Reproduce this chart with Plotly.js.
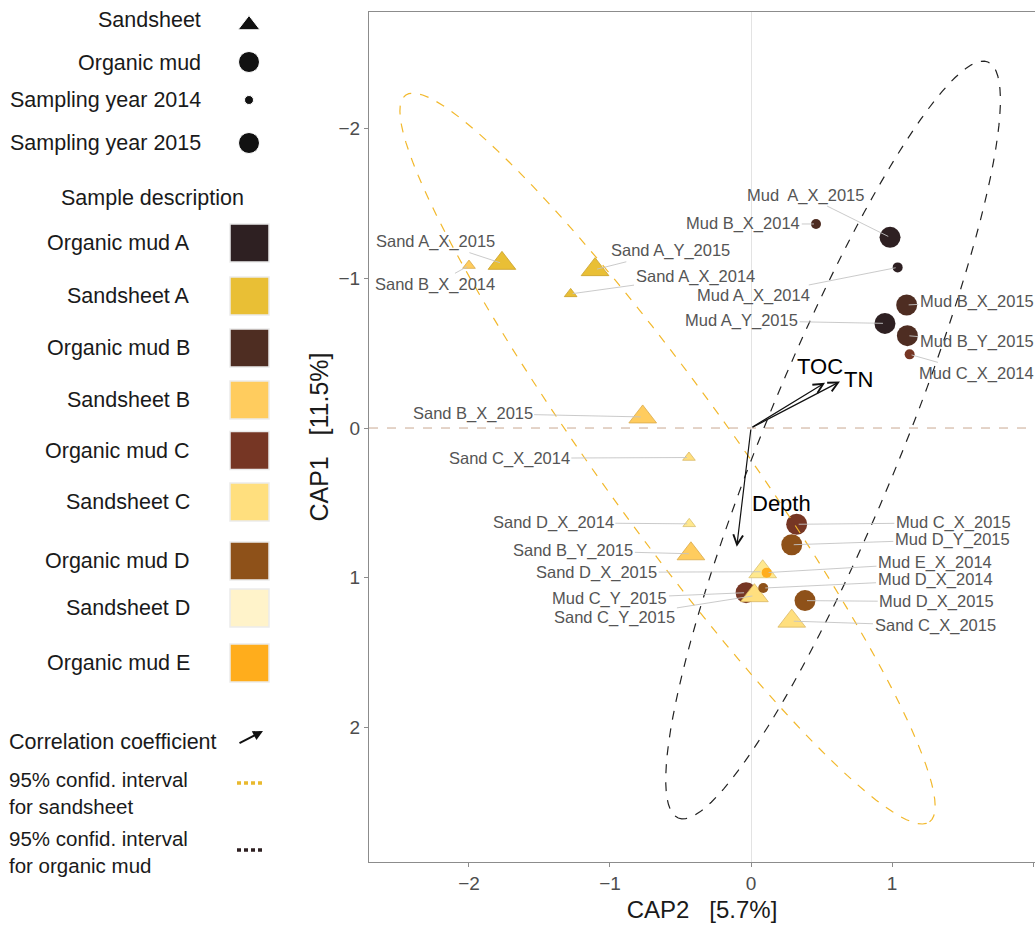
<!DOCTYPE html>
<html><head><meta charset="utf-8">
<script src="https://cdn.plot.ly/plotly-3.0.1.min.js"></script>
<style>html,body{margin:0;padding:0;background:#fff}#chart{width:1035px;height:926px}</style>
</head><body><div id="chart"></div>
<script>
// ---------------- data ----------------
const sandNames = ['Sand A_X_2015','Sand B_X_2014','Sand A_Y_2015','Sand A_X_2014','Sand B_X_2015',
  'Sand C_X_2014','Sand D_X_2014','Sand B_Y_2015','Sand D_X_2015','Sand C_Y_2015','Sand C_X_2015'];
const sandX = [-1.766,-2.0,-1.106,-1.279,-0.768,-0.44,-0.438,-0.426,0.083,0.024,0.289];
const sandY = [-1.10,-1.085,-1.058,-0.896,-0.074,0.197,0.64,0.84,0.96,1.12,1.29];
const sandGroup = ['A','B','A','A','B','C','D','B','D','C','C'];
const sandYear = [2015,2014,2015,2014,2015,2014,2014,2015,2015,2015,2015];
const sandLabelX = [-2.234,-2.241,-0.574,-0.397,-1.974,-1.714,-1.402,-1.260,-1.094,-0.965,1.305];
const sandLabelY = [-1.245,-0.960,-1.184,-1.011,-0.098,0.202,0.633,0.820,0.964,1.267,1.321];

const mudNames = ['Mud  A_X_2015','Mud B_X_2014','Mud A_X_2014','Mud B_X_2015','Mud A_Y_2015','Mud B_Y_2015',
  'Mud C_X_2014','Mud C_X_2015','Mud D_Y_2015','Mud E_X_2014','Mud C_Y_2015','Mud D_X_2014','Mud D_X_2015'];
const mudX = [0.986,0.461,1.04,1.104,0.95,1.109,1.125,0.324,0.289,0.111,-0.035,0.087,0.383];
const mudY = [-1.274,-1.363,-1.073,-0.822,-0.699,-0.617,-0.492,0.643,0.78,0.966,1.10,1.069,1.153];
const mudGroup = ['A','B','A','B','A','B','C','C','D','E','C','D','D'];
const mudYear = [2015,2014,2014,2015,2015,2015,2014,2015,2015,2014,2015,2014,2015];
const mudLabelX = [0.383,-0.055,0.016,1.601,-0.066,1.601,1.601,1.435,1.428,1.305,-1.0,1.305,1.317];
const mudLabelY = [-1.556,-1.363,-0.882,-0.844,-0.717,-0.576,-0.365,0.633,0.744,0.900,1.138,1.015,1.160];

const vectorNames = ['TOC','TN','Depth'];
const vectorX = [0.525,0.631,-0.101];
const vectorY = [-0.303,-0.310,0.793];
const vectorLabelX = [0.489,0.759,0.218];
const vectorLabelY = [-0.410,-0.327,0.503];

// confidence ellipses: centre and conjugate half-axes
const sandEllipse = {cx:-0.592, cy:0.204, ux:1.858, uy:2.427, vx:0.387, vy:-0.263};
const mudEllipse  = {cx:0.582,  cy:0.080, ux:-1.098, uy:2.525, vx:0.450, vy:0.174};

const categories = ['Organic mud A','Sandsheet A','Organic mud B','Sandsheet B','Organic mud C',
  'Sandsheet C','Organic mud D','Sandsheet D','Organic mud E'];
const categoryColors = ['#2E2022','#E9BF35','#4E2D22','#FFCC5E','#763624','#FFDF7E','#8E5119','#FFF3CA','#FFAD1C'];

const xTickVals = [-2,-1,0,1,2];
const yTickVals = [-2,-1,0,1,2];

// ---------------- styling / layout ----------------
const W = 1035, H = 926;
const FONT = '"Liberation Sans", Arial, sans-serif';
const LEGFONT = 21.5;
const sandFill = {A:'#E9BF35', B:'#FFCC5E', C:'#FFDF7E', D:'#FFE88E'};
const sandEdge = {A:'#C9A02A', B:'#D9A94A', C:'#D9B864', D:'#D9C070'};
const mudFill = {A:'#2E2022', B:'#4E2D22', C:'#763624', D:'#8E5119', E:'#FFAD1C'};

const plotL = 369, plotR = 1035, plotT = 12, plotB = 862;
const xRange = [-2.709, 2.014];
const yRange = [2.899, -2.779];

function ellipsePath(e){
  let p = '';
  const n = 120;
  for (let i = 0; i <= n; i++){
    const t = 2*Math.PI*i/n;
    const x = e.cx + Math.cos(t)*e.ux + Math.sin(t)*e.vx;
    const y = e.cy + Math.cos(t)*e.uy + Math.sin(t)*e.vy;
    p += (i===0?'M':'L') + x.toFixed(4) + ',' + y.toFixed(4);
  }
  return p + 'Z';
}

const traces = [];
// mud 2015 (big circles) under triangles
const m15 = mudNames.map((n,i)=>i).filter(i=>mudYear[i]===2015);
traces.push({type:'scatter', mode:'markers', xaxis:'x', yaxis:'y', hoverinfo:'skip',
  x:m15.map(i=>mudX[i]), y:m15.map(i=>mudY[i]),
  marker:{symbol:'circle', size:21, opacity:1, color:m15.map(i=>mudFill[mudGroup[i]]), line:{width:0}}});
// sand triangles
traces.push({type:'scatter', mode:'markers', xaxis:'x', yaxis:'y', hoverinfo:'skip',
  x:sandX, y:sandY,
  marker:{symbol:'triangle-up', size:sandYear.map(y=>y===2015?24:11), opacity:1,
    color:sandGroup.map(g=>sandFill[g]), line:{width:0.8, color:sandGroup.map(g=>sandEdge[g])}}});
// mud 2014 small circles
const m14 = mudNames.map((n,i)=>i).filter(i=>mudYear[i]===2014);
traces.push({type:'scatter', mode:'markers', xaxis:'x', yaxis:'y', hoverinfo:'skip',
  x:m14.map(i=>mudX[i]), y:m14.map(i=>mudY[i]),
  marker:{symbol:'circle', size:10, opacity:1, color:m14.map(i=>mudFill[mudGroup[i]]), line:{width:0}}});

// ---------------- legend (pixel coordinates on hidden axes) ----------------
const legX = 341.55;
const legTopMarkersY = [25, 62, 100, 143];
traces.push({type:'scatter', mode:'markers', xaxis:'x2', yaxis:'y2', hoverinfo:'skip',
  x:[249,249,249,249], y:legTopMarkersY,
  marker:{symbol:['triangle-up','circle','circle','circle'], size:[19,21,9,21], opacity:1, color:'#111'}});

const annotations = [];
const shapes = [];
const legTop = ['Sandsheet','Organic mud','Sampling year 2014','Sampling year 2015'];
const legTopTextY = [20, 63, 100, 143];
legTop.forEach((t,i)=>annotations.push({xref:'x2', yref:'y2', x:203, y:legTopTextY[i], text:t,
  showarrow:false, xanchor:'right', yanchor:'middle', font:{family:FONT, size:LEGFONT, color:'#1a1a1a'}}));
annotations.push({xref:'x2', yref:'y2', x:152, y:198, text:'Sample description', showarrow:false,
  xanchor:'center', yanchor:'middle', font:{family:FONT, size:LEGFONT, color:'#1a1a1a'}});
const rowY = [243, 296, 348, 400, 450.5, 502, 561, 608, 663];
categories.forEach((c,i)=>{
  annotations.push({xref:'x2', yref:'y2', x:192, y:rowY[i], text:c, showarrow:false,
    xanchor:'right', yanchor:'middle', font:{family:FONT, size:LEGFONT, color:'#1a1a1a'}});
  shapes.push({type:'rect', xref:'x2', yref:'y2', x0:230, x1:269, y0:rowY[i]-19, y1:rowY[i]+19,
    fillcolor:categoryColors[i], line:{color:'#ebebeb', width:1.5}});
});
annotations.push({xref:'x2', yref:'y2', x:7, y:742, text:'Correlation coefficient', showarrow:false,
  xanchor:'left', yanchor:'middle', font:{family:FONT, size:LEGFONT, color:'#1a1a1a'}});
annotations.push({xref:'x2', yref:'y2', axref:'x2', ayref:'y2', x:263, y:731, ax:238, ay:744, text:'',
  showarrow:true, arrowhead:2, arrowsize:1, arrowwidth:2, arrowcolor:'#111'});
[['95% confid. interval<br>for sandsheet',793],['95% confid. interval<br>for organic mud',852]]
  .forEach(([t,y])=>annotations.push({xref:'x2', yref:'y2', x:7, y:y, text:t, showarrow:false,
    xanchor:'left', yanchor:'middle', align:'left', font:{family:FONT, size:20.5, color:'#1a1a1a'}}));
shapes.push({type:'line', xref:'x2', yref:'y2', x0:237, x1:263, y0:783, y1:783,
  line:{color:'#E9B92E', width:3.5, dash:'4px,3px'}});
shapes.push({type:'line', xref:'x2', yref:'y2', x0:237, x1:263, y0:850, y1:850,
  line:{color:'#2E2022', width:3.5, dash:'4px,3px'}});

// ---------------- main plot decorations ----------------
shapes.push({type:'line', xref:'x', yref:'y', x0:xRange[0], x1:xRange[1], y0:0, y1:0,
  line:{color:'#caa892', width:1, dash:'dash'}, layer:'below'});
shapes.push({type:'path', xref:'x', yref:'y', path:ellipsePath(sandEllipse),
  line:{color:'#F2B82B', width:1.2, dash:'dash'}});
shapes.push({type:'path', xref:'x', yref:'y', path:ellipsePath(mudEllipse),
  line:{color:'#222', width:1.2, dash:'dash'}});

// sample labels with leader lines
function addLabel(text, px, py, lx, ly){
  annotations.push({xref:'x', yref:'y', axref:'x', ayref:'y', x:px, y:py, ax:lx, ay:ly, text:text,
    showarrow:true, arrowhead:0, arrowwidth:0.9, arrowcolor:'#c4c4c4', standoff:2,
    font:{family:FONT, size:16.5, color:'#555555'}});
}
sandNames.forEach((n,i)=>addLabel(n, sandX[i], sandY[i], sandLabelX[i], sandLabelY[i]));
mudNames.forEach((n,i)=>addLabel(n, mudX[i], mudY[i], mudLabelX[i], mudLabelY[i]));

// environmental vectors
vectorNames.forEach((n,i)=>{
  annotations.push({xref:'x', yref:'y', axref:'x', ayref:'y', x:vectorX[i], y:vectorY[i], ax:0, ay:0,
    text:'', showarrow:true, arrowhead:5, arrowsize:1.6, arrowwidth:1.2, arrowcolor:'#111'});
  annotations.push({xref:'x', yref:'y', x:vectorLabelX[i], y:vectorLabelY[i], text:n, showarrow:false,
    xanchor:'center', yanchor:'middle', font:{family:FONT, size:22, color:'#000'}});
});

const layout = {
  width:W, height:H, margin:{l:0, r:0, t:0, b:0},
  paper_bgcolor:'#fff', plot_bgcolor:'rgba(0,0,0,0)', showlegend:false,
  font:{family:FONT},
  xaxis:{domain:[plotL/W, plotR/W], range:xRange, tickvals:xTickVals, showgrid:false,
    zeroline:true, zerolinecolor:'#e3e3e3', zerolinewidth:1,
    showline:true, linecolor:'#8c8c8c', linewidth:1, mirror:true,
    ticks:'outside', ticklen:4, tickcolor:'#8c8c8c',
    tickfont:{family:FONT, size:19, color:'#4d4d4d'},
    title:{text:'CAP2   [5.7%]', font:{family:FONT, size:24, color:'#1a1a1a'}, standoff:8}},
  yaxis:{domain:[(H-plotB)/H, (H-plotT)/H], range:yRange, tickvals:yTickVals, showgrid:false,
    zeroline:false, showline:true, linecolor:'#8c8c8c', linewidth:1, mirror:true,
    ticks:'outside', ticklen:4, tickcolor:'#8c8c8c',
    tickfont:{family:FONT, size:19, color:'#4d4d4d'},
    title:{text:'CAP1   [11.5%]', font:{family:FONT, size:25, color:'#1a1a1a'}, standoff:2}},
  xaxis2:{domain:[0, legX/W], range:[0, legX], visible:false, fixedrange:true},
  yaxis2:{domain:[0, 1], range:[H, 0], visible:false, fixedrange:true, anchor:'x2'},
  shapes:shapes, annotations:annotations
};
traces.forEach(t=>{ if (t.xaxis==='x2') t.yaxis='y2'; });
Plotly.newPlot('chart', traces, layout, {staticPlot:true, displayModeBar:false});
</script>
</body></html>
